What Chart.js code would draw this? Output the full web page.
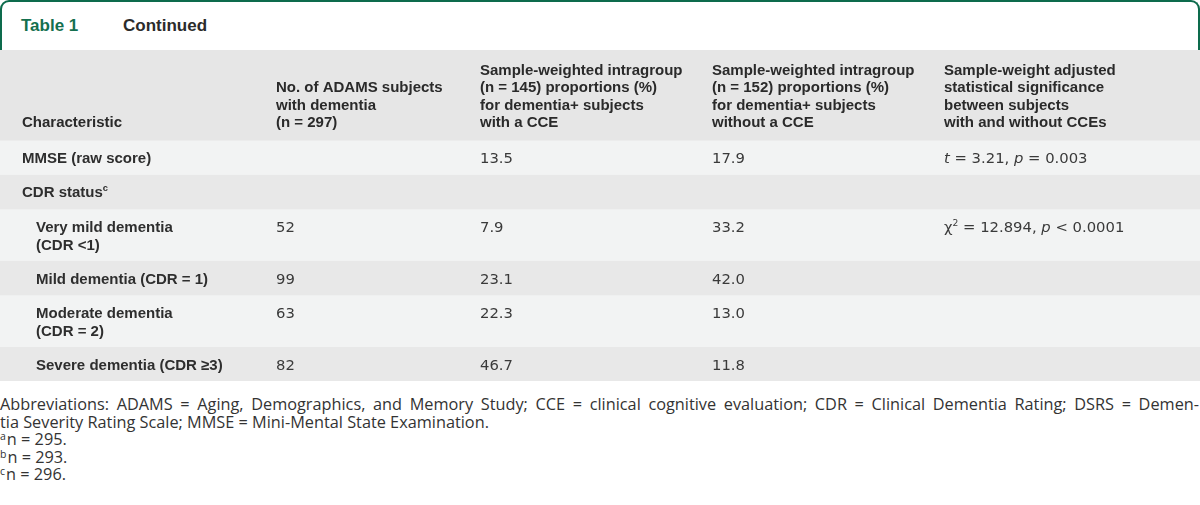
<!DOCTYPE html>
<html>
<head>
<meta charset="utf-8">
<script src="https://cdn.jsdelivr.net/npm/chart.js@4/dist/chart.umd.min.js"></script>
<style>
  body { margin: 0; background: #fff; width: 1200px; height: 505px; overflow: hidden; position: relative; }
  #title {
    position: absolute; left: 0; top: 0; width: 1200px; height: 50px; box-sizing: border-box;
    border: 2px solid #0d6b4c; border-bottom: 0; border-radius: 9px 9px 0 0;
    font: bold 17px "Liberation Sans", Arial, sans-serif;
  }
  #title span { position: absolute; top: 14px; }
  #tableNo { left: 19px; color: #14704f; }
  #cont { left: 121px; color: #2b2b2b; }
  #tableChart { position: absolute; left: 0; top: 50px; }
  #notes {
    position: absolute; left: 0; top: 396px; width: 1199px;
    font: 16.3px "Open Sans", Roboto, sans-serif; line-height: 17.6px; color: #333;
  }
  #notes .just { text-align: justify; text-align-last: justify; white-space: nowrap; }
  #notes sup { font-size: 10.5px; vertical-align: 5px; line-height: 0; margin-right: 1px; }
</style>
</head>
<body>
<div id="title"><span id="tableNo">Table 1</span><span id="cont">Continued</span></div>
<canvas id="tableChart" width="1200" height="331"></canvas>
<div id="notes">
  <div class="just">Abbreviations: ADAMS = Aging, Demographics, and Memory Study; CCE = clinical cognitive evaluation; CDR = Clinical Dementia Rating; DSRS = Demen-</div>
  <div>tia Severity Rating Scale; MMSE = Mini-Mental State Examination.</div>
  <div><sup>a</sup>n = 295.</div>
  <div><sup>b</sup>n = 293.</div>
  <div><sup>c</sup>n = 296.</div>
</div>
<script>
// ==============================
// Table data
// ==============================
const headerCells = [
  ["Characteristic"],
  ["No. of ADAMS subjects", "with dementia", "(n = 297)"],
  ["Sample-weighted intragroup", "(n = 145) proportions (%)", "for dementia+ subjects", "with a CCE"],
  ["Sample-weighted intragroup", "(n = 152) proportions (%)", "for dementia+ subjects", "without a CCE"],
  ["Sample-weight adjusted", "statistical significance", "between subjects", "with and without CCEs"]
];

const characteristics = [
  ["MMSE (raw score)"],
  ["CDR status"],
  ["Very mild dementia", "(CDR <1)"],
  ["Mild dementia (CDR = 1)"],
  ["Moderate dementia", "(CDR = 2)"],
  ["Severe dementia (CDR ≥3)"]
];
const noteMarks = ["", "c", "", "", "", ""];
const indented = [false, false, true, true, true, true];

const adamsCounts = [null, null, 52, 99, 63, 82];
const withCce = [13.5, null, 7.9, 23.1, 22.3, 46.7];
const withoutCce = [17.9, null, 33.2, 42.0, 13.0, 11.8];

// pieces: [text, style] where style is "" | "i" (italic) | "sup"
const significance = [
  [["t", "i"], [" = 3.21, ", ""], ["p", "i"], [" = 0.003", ""]],
  [],
  [["χ", ""], ["2", "sup"], [" = 12.894, ", ""], ["p", "i"], [" < 0.0001", ""]],
  [],
  [],
  []
];

// ==============================
// Layout helpers
// ==============================
const colX = [22, 276, 480, 712, 944];
const HEADER_H = 90;
const ROW_PAD = 17.2;
const ROW_STEP = 17.2;
const LABEL_FONT = "'Liberation Sans', Arial, sans-serif";
const VALUE_FONT = "'DejaVu Sans', sans-serif";

// row edges built from line counts
const edges = [0, HEADER_H];
characteristics.forEach((lines) => {
  edges.push(edges[edges.length - 1] + ROW_PAD + ROW_STEP * lines.length);
});
const total = edges[edges.length - 1];

function bandColor(i) {
  if (i === 0) return "#e6e6e6";
  return i % 2 ? "#f2f3f3" : "#e8e8e8";
}

function drawRich(ctx, x, y, pieces, weight, size, family) {
  pieces.forEach(([text, style]) => {
    let sz = size;
    let dy = 0;
    let slant = "";
    if (style === "i") slant = "oblique ";
    if (style === "sup") {
      sz = size * 0.62;
      dy = -size * 0.4;
    }
    ctx.font = `${slant}${weight} ${sz}px ${family}`;
    ctx.fillText(text, x, y + dy);
    x += ctx.measureText(text).width;
  });
}

// ==============================
// Cell text plugin
// ==============================
const tableTextPlugin = {
  id: "tableText",
  afterDatasetsDraw(chart) {
    const ctx = chart.ctx;
    const yScale = chart.scales.y;
    const left = chart.chartArea.left;
    ctx.save();
    ctx.textBaseline = "alphabetic";

    // header, bottom aligned
    const headBottom = yScale.getPixelForValue(edges[1]);
    ctx.fillStyle = "#2a2a2a";
    headerCells.forEach((lines, c) => {
      lines.forEach((line, i) => {
        const base = headBottom - 13 - (lines.length - 1 - i) * 17.3;
        drawRich(ctx, left + colX[c], base, [[line, ""]], "bold", 15, LABEL_FONT);
      });
    });

    // body rows
    characteristics.forEach((lines, r) => {
      const top = yScale.getPixelForValue(edges[r + 1]);
      const base = top + 23;
      ctx.fillStyle = "#2e2e2e";
      lines.forEach((line, i) => {
        const pieces = [[line, ""]];
        if (i === lines.length - 1 && noteMarks[r]) pieces.push([noteMarks[r], "sup"]);
        drawRich(ctx, left + colX[0] + (indented[r] ? 14 : 0), base + i * 18, pieces, "bold", 15, LABEL_FONT);
      });
      ctx.fillStyle = "#3a3a3a";
      if (adamsCounts[r] !== null) drawRich(ctx, left + colX[1], base, [[String(adamsCounts[r]), ""]], "normal", 14.8, VALUE_FONT);
      if (withCce[r] !== null) drawRich(ctx, left + colX[2], base, [[withCce[r].toFixed(1), ""]], "normal", 14.8, VALUE_FONT);
      if (withoutCce[r] !== null) drawRich(ctx, left + colX[3], base, [[withoutCce[r].toFixed(1), ""]], "normal", 14.8, VALUE_FONT);
      drawRich(ctx, left + colX[4], base, significance[r], "normal", 14.8, VALUE_FONT);
    });
    ctx.restore();
  }
};

// ==============================
// Chart (row bands as floating bars)
// ==============================
const ctx = document.getElementById("tableChart").getContext("2d");
new Chart(ctx, {
  type: "bar",
  data: {
    labels: ["table"],
    datasets: edges.slice(0, -1).map((start, i) => ({
      data: [[start, edges[i + 1]]],
      backgroundColor: bandColor(i),
      borderWidth: 0,
      grouped: false,
      barPercentage: 1,
      categoryPercentage: 1
    }))
  },
  options: {
    responsive: false,
    animation: false,
    devicePixelRatio: 1,
    layout: { padding: 0 },
    plugins: { legend: { display: false }, tooltip: { enabled: false } },
    scales: {
      x: { display: false },
      y: { display: false, reverse: true, min: 0, max: total }
    }
  },
  plugins: [tableTextPlugin]
});
</script>
</body>
</html>
